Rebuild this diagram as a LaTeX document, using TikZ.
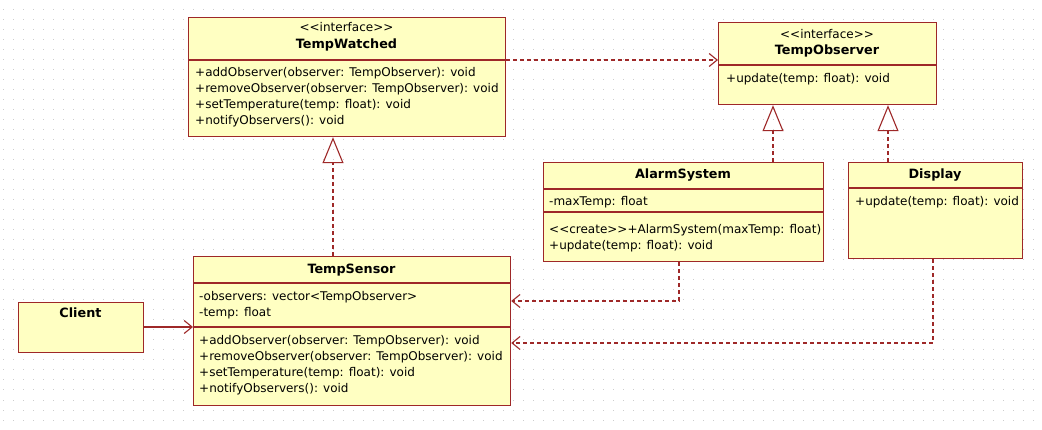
\documentclass[tikz,border=0pt]{standalone}
\usepackage{fontspec}
\setmainfont{DejaVu Sans}
\usetikzlibrary{arrows.meta}
\definecolor{boxfill}{RGB}{255,255,194}
\definecolor{boxline}{RGB}{158,40,40}
\definecolor{griddot}{RGB}{205,205,205}
\newcommand{\lt}{<{}}
\newcommand{\gt}{>{}}
\begin{document}
\begin{tikzpicture}[x=1pt,y=-1pt,
  cls/.style={draw=boxline, fill=boxfill, line width=1.2pt, rectangle, anchor=north west, inner sep=0pt},
  divl/.style={draw=boxline, line width=1.2pt},
  txt/.style={anchor=west, inner sep=0pt, text height=9pt, text depth=2pt, font=\fontsize{12}{14}\selectfont},
  ttl/.style={anchor=center, inner sep=0pt, text height=9pt, text depth=2pt, font=\fontsize{12.8}{14}\selectfont\bfseries},
  stereo/.style={anchor=center, inner sep=0pt, text height=9pt, text depth=2pt, font=\fontsize{12}{14}\selectfont},
  dep/.style={draw=boxline, line width=1.1pt, dash pattern=on 4pt off 3pt, -{Straight Barb[length=8pt,width=13pt,line width=1.1pt]}},
  real/.style={draw=boxline, line width=1.1pt, dash pattern=on 4pt off 3pt, -{Triangle[open,length=26pt,width=21pt,line width=1.1pt]}},
  assoc/.style={draw=boxline, line width=1.1pt, -{Straight Barb[length=8pt,width=13pt,line width=1.1pt]}}]
\useasboundingbox (0,0) rectangle (1042,430);
\fill[white] (0,0) rectangle (1042,430);
% dotted grid
\foreach \gy in {0,10,...,430}
  \draw[griddot, line width=1pt, dash pattern=on 1pt off 9pt] (3,\gy) -- (1042,\gy);

% TempWatched
\node[cls, minimum width=317pt, minimum height=119pt] (tw) at (188,17) {};
\draw[divl] (188,60) -- (505,60);
\node[stereo] (twst) at (346.5,28) {\lt\lt interface\gt\gt};
\node[ttl] (twt) at (346.5,45) {TempWatched};
\node[txt] (twm1) at (195,73) {+addObserver(observer: TempObserver): void};
\node[txt] (twm2) at (195,89) {+removeObserver(observer: TempObserver): void};
\node[txt] (twm3) at (195,105) {+setTemperature(temp: float): void};
\node[txt] (twm4) at (195,121) {+notifyObservers(): void};

% TempObserver
\node[cls, minimum width=218pt, minimum height=82pt] (to) at (718,22) {};
\draw[divl] (718,65) -- (936,65);
\node[stereo] (tost) at (827,35) {\lt\lt interface\gt\gt};
\node[ttl] (tot) at (827,51) {TempObserver};
\node[txt] (tom1) at (726,79) {+update(temp: float): void};

% AlarmSystem
\node[cls, minimum width=280pt, minimum height=99pt] (as) at (543,162) {};
\draw[divl] (543,189) -- (823,189);
\draw[divl] (543,212) -- (823,212);
\node[ttl] (ast) at (683,175) {AlarmSystem};
\node[txt] (asa1) at (549,202) {-maxTemp: float};
\node[txt] (asm1) at (549,230) {\lt\lt create\gt\gt+AlarmSystem(maxTemp: float)};
\node[txt] (asm2) at (549,246) {+update(temp: float): void};

% Display
\node[cls, minimum width=174pt, minimum height=96pt] (ds) at (848,162) {};
\draw[divl] (848,188) -- (1022,188);
\node[ttl] (dst) at (935,175) {Display};
\node[txt] (dsm1) at (855,202) {+update(temp: float): void};

% TempSensor
\node[cls, minimum width=317pt, minimum height=149pt] (ts) at (193,256) {};
\draw[divl] (193,283) -- (510,283);
\draw[divl] (193,327) -- (510,327);
\node[ttl] (tst) at (351.5,270) {TempSensor};
\node[txt] (tsa1) at (199,297) {-observers: vector\lt TempObserver\gt};
\node[txt] (tsa2) at (199,313) {-temp: float};
\node[txt] (tsm1) at (199,341) {+addObserver(observer: TempObserver): void};
\node[txt] (tsm2) at (199,357) {+removeObserver(observer: TempObserver): void};
\node[txt] (tsm3) at (199,373) {+setTemperature(temp: float): void};
\node[txt] (tsm4) at (199,389) {+notifyObservers(): void};

% Client
\node[cls, minimum width=125pt, minimum height=50pt] (cl) at (18,302) {};
\node[ttl] (clt) at (80.5,314) {Client};

% connectors
\draw[dep] ([yshift=-43pt]tw.north east) -- ([yshift=-38pt]to.north west);
\draw[real] ([xshift=140pt]ts.north west) -- ([xshift=145pt]tw.south west);
\draw[real] ([xshift=230pt]as.north west) -- ([xshift=55pt]to.south west);
\draw[real] ([xshift=40pt]ds.north west) -- ([xshift=170pt]to.south west);
\draw[dep] ([xshift=136pt]as.south west) |- ([yshift=-45pt]ts.north east);
\draw[dep] ([xshift=85pt]ds.south west) |- ([yshift=-87pt]ts.north east);
\draw[assoc] ([yshift=-25pt]cl.north east) -- ([yshift=-71pt]ts.north west);
\end{tikzpicture}
\end{document}
